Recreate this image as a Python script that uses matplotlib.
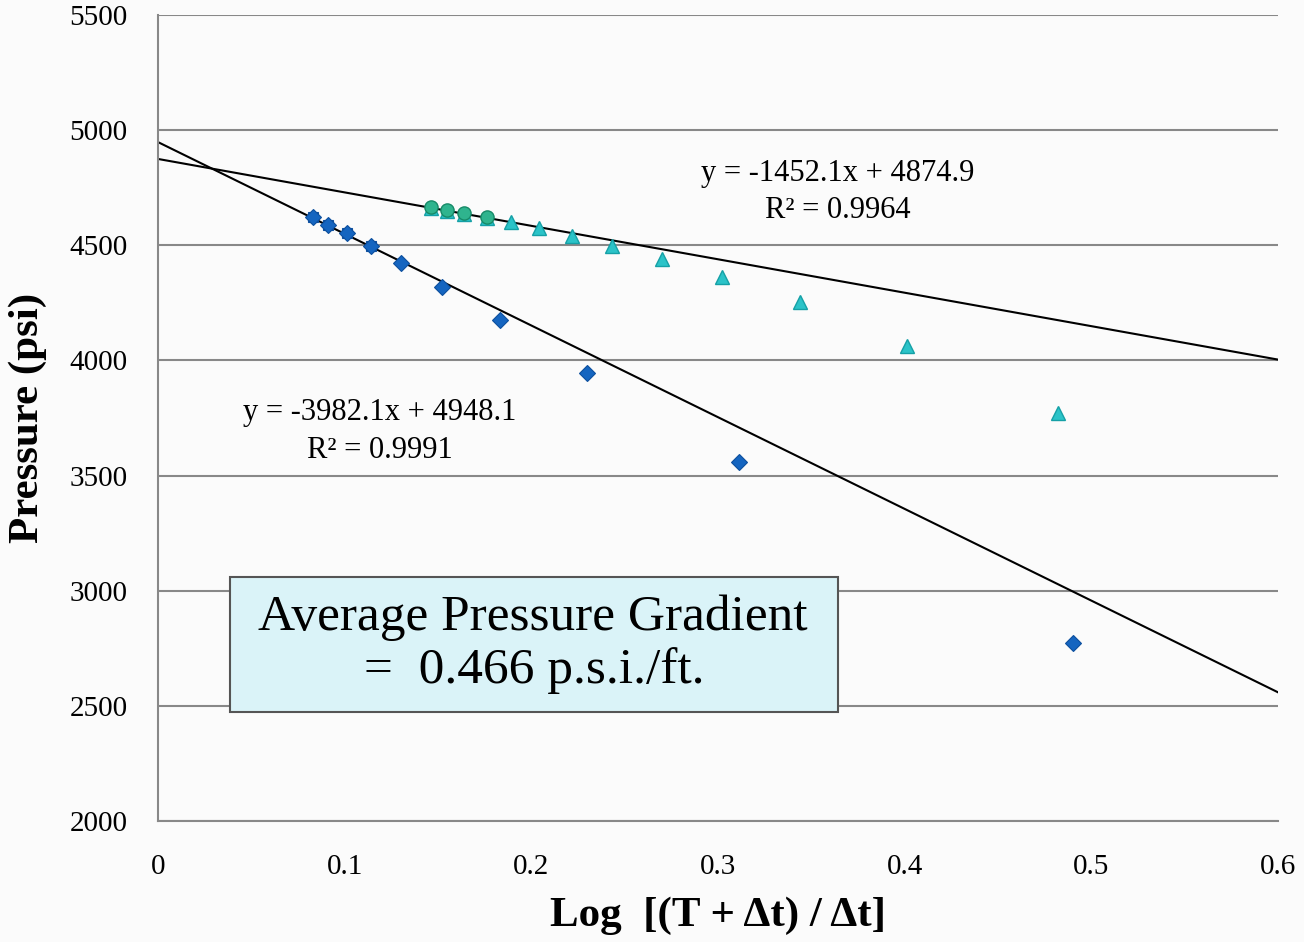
import numpy as np
import matplotlib
matplotlib.use("Agg")
import matplotlib.pyplot as plt

# diamonds (well A)
xa = [0.083, 0.091, 0.101, 0.114, 0.130, 0.152, 0.183, 0.230, 0.311, 0.490]
ya = [4623, 4588, 4553, 4497, 4423, 4319, 4176, 3946, 3559, 2773]
# early points drawn twice (square + diamond overlap)
xa_early = [0.083, 0.091, 0.101, 0.114]
ya_early = [4623, 4588, 4553, 4497]

# triangles (well B)
xb = [0.146, 0.155, 0.164, 0.176, 0.189, 0.204, 0.222, 0.243, 0.270, 0.302, 0.344, 0.401, 0.482]
yb = [4660, 4648, 4636, 4618, 4601, 4575, 4540, 4497, 4441, 4362, 4254, 4063, 3772]
# circles on top of the first triangles
xc = [0.146, 0.155, 0.164, 0.176]
yc = [4666, 4653, 4640, 4623]

fit_a = (-3982.1, 4948.1, 0.9991)
fit_b = (-1452.1, 4874.9, 0.9964)

yticks = [2000, 2500, 3000, 3500, 4000, 4500, 5000, 5500]
xticks = [0, 0.1, 0.2, 0.3, 0.4, 0.5, 0.6]
xtick_labels = ["0", "0.1", "0.2", "0.3", "0.4", "0.5", "0.6"]

plt.rcParams["font.family"] = ["Liberation Serif", "DejaVu Serif"]

fig = plt.figure(figsize=(13.04, 9.42), dpi=100)
fig.patch.set_facecolor("#fbfbfb")
ax = fig.add_axes([158/1304, 1-821/942, (1278-158)/1304, (821-15)/942])
ax.set_facecolor("#fbfbfb")

for y in yticks:
    ax.axhline(y, color="#888888", lw=1.5, zorder=1)

xl = np.array([0, 0.6])
for m, b, r2 in (fit_a, fit_b):
    ax.plot(xl, m*xl + b, color="black", lw=1.5, zorder=2)

ax.plot(xa_early, ya_early, "s", ms=7.5, color="#1565c0", mec="#0d4f9e", mew=0.8, zorder=3)
ax.plot(xa, ya, "D", ms=8, color="#1565c0", mec="#0d4f9e", mew=0.8, zorder=4)
ax.plot(xb, yb, "^", ms=10, color="#2bc3c8", mec="#15a0a6", mew=1, zorder=3)
ax.plot(xc, yc, "o", ms=9.5, color="#2fb48e", mec="#178a68", mew=1, zorder=4)

ax.text(0.364, 4810, f"y = {fit_b[0]}x + {fit_b[1]}", fontsize=22, ha="center", va="center")
ax.text(0.364, 4653, f"R² = {fit_b[2]}", fontsize=22, ha="center", va="center")
ax.text(0.119, 3776, f"y = {fit_a[0]}x + {fit_a[1]}", fontsize=22, ha="center", va="center")
ax.text(0.119, 3611, f"R² = {fit_a[2]}", fontsize=22, ha="center", va="center")

ax.text(0.2016, 2767, " Average Pressure Gradient \n=  0.466 p.s.i./ft.", fontsize=37,
        ha="center", va="center", linespacing=1.15, zorder=6,
        bbox=dict(boxstyle="square,pad=0.35", fc="#daf3f8", ec="#555555", lw=1.5))

ax.set_xlim(0, 0.6)
ax.set_ylim(2000, 5500)
ax.set_xticks(xticks)
ax.set_xticklabels(xtick_labels)
ax.set_yticks(yticks)
ax.tick_params(length=0, labelsize=21)
ax.tick_params(axis="x", pad=24)
ax.tick_params(axis="y", pad=22)
for s in ("top", "right"):
    ax.spines[s].set_visible(False)
for s in ("left", "bottom"):
    ax.spines[s].set_color("#888888")
    ax.spines[s].set_linewidth(1.5)

ax.set_ylabel("Pressure (psi)", fontsize=31, fontweight="bold", labelpad=16)
ax.set_xlabel("Log  [(T + \u0394t) / \u0394t]", fontsize=31, fontweight="bold", labelpad=12)

fig.savefig("out.png", dpi=100, facecolor=fig.get_facecolor())
